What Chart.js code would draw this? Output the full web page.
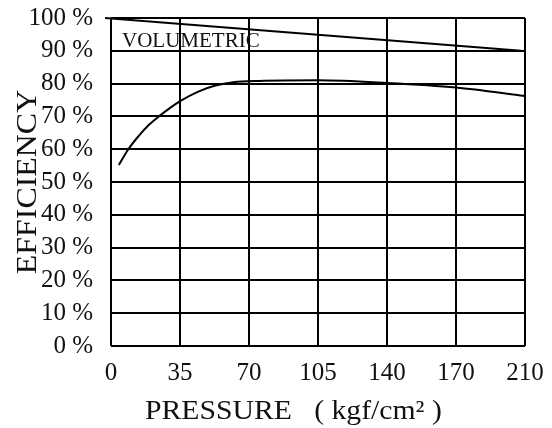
<!DOCTYPE html>
<html>
<head>
<meta charset="utf-8">
<script src="https://cdn.jsdelivr.net/npm/chart.js@4/dist/chart.umd.min.js"></script>
<style>
  html, body { margin: 0; padding: 0; background: #fff; }
  #wrap { width: 552px; height: 428px; }
</style>
</head>
<body>
<div id="wrap"><canvas id="effChart" width="552" height="428"></canvas></div>
<script>
// pump efficiency vs pressure

const xTickLabels = ["0", "35", "70", "105", "140", "170", "210"];
const yTickLabels = ["0 %", "10 %", "20 %", "30 %", "40 %", "50 %", "60 %", "70 %", "80 %", "90 %", "100 %"];

const volPressure = [-3, 208];
const volEfficiency = [100, 90];

const totalPressure = [4, 8.8, 14, 19, 24.3, 30, 35.5, 44, 53, 62, 75, 105, 140, 175, 210];
const totalEfficiency = [55.2, 60, 64, 67.3, 70, 72.6, 74.8, 77.5, 79.4, 80.4, 80.8, 81, 80.2, 78.8, 76.2];

const volLabel = { text: "VOLUMETRIC", x: 5.6, y: 91.3 };
const xTitle = "PRESSURE   ( kgf/cm² )";
const yTitle = "EFFICIENCY";

const serif = "'Liberation Serif', 'DejaVu Serif', serif";

// axis titles in the original are a little wide for their height, so draw them slightly stretched
const textPlugin = {
  id: "chartText",
  afterDraw(chart) {
    const { ctx, scales, chartArea } = chart;
    ctx.save();
    ctx.fillStyle = "#111";
    ctx.textBaseline = "alphabetic";

    ctx.font = `21px ${serif}`;
    ctx.textAlign = "left";
    ctx.fillText(volLabel.text, scales.x.getPixelForValue(volLabel.x), scales.y.getPixelForValue(volLabel.y));

    ctx.save();
    ctx.font = `27px ${serif}`;
    ctx.translate(145, 419);
    ctx.scale(1.1, 1);
    ctx.fillText(xTitle, 0, 0);
    ctx.restore();

    ctx.save();
    ctx.font = `29px ${serif}`;
    ctx.textAlign = "center";
    ctx.translate(36, (chartArea.top + chartArea.bottom) / 2);
    ctx.rotate(-Math.PI / 2);
    ctx.scale(1.1, 1);
    ctx.fillText(yTitle, 0, 0);
    ctx.restore();

    ctx.restore();
  }
};

const ctx = document.getElementById("effChart").getContext("2d");
new Chart(ctx, {
  type: "line",
  data: {
    datasets: [
      {
        label: "Volumetric",
        data: volPressure.map((p, i) => ({ x: p, y: volEfficiency[i] })),
        borderColor: "#000",
        borderWidth: 2,
        pointRadius: 0,
        clip: false
      },
      {
        label: "Overall",
        data: totalPressure.map((p, i) => ({ x: p, y: totalEfficiency[i] })),
        borderColor: "#000",
        borderWidth: 2,
        pointRadius: 0,
        cubicInterpolationMode: "monotone"
      }
    ]
  },
  options: {
    responsive: false,
    animation: false,
    layout: { padding: { left: 0, right: 27, top: 18, bottom: 0 } },
    plugins: { legend: { display: false }, tooltip: { enabled: false } },
    scales: {
      x: {
        type: "linear",
        min: 0,
        max: 210,
        afterBuildTicks(scale) {
          scale.ticks = xTickLabels.map((_, i) => ({ value: i * 35 }));
        },
        afterFit(scale) {
          scale.height = 82;
          scale.paddingLeft = 0;
          scale.paddingRight = 0;
        },
        grid: { color: "#000", lineWidth: 2, drawTicks: false },
        border: { display: false },
        ticks: {
          color: "#111",
          padding: 12,
          maxRotation: 0,
          autoSkip: false,
          font: { family: serif, size: 25 },
          callback: (v, i) => xTickLabels[i]
        }
      },
      y: {
        min: 0,
        max: 100,
        afterBuildTicks(scale) {
          scale.ticks = yTickLabels.map((_, i) => ({ value: i * 10 }));
        },
        afterFit(scale) {
          scale.width = 111;
          scale.paddingTop = 0;
          scale.paddingBottom = 0;
        },
        grid: { color: "#000", lineWidth: 2, drawTicks: false },
        border: { display: false },
        ticks: {
          color: "#111",
          padding: 18,
          autoSkip: false,
          font: { family: serif, size: 25 },
          callback: (v, i) => yTickLabels[i]
        }
      }
    }
  },
  plugins: [textPlugin]
});
</script>
</body>
</html>
